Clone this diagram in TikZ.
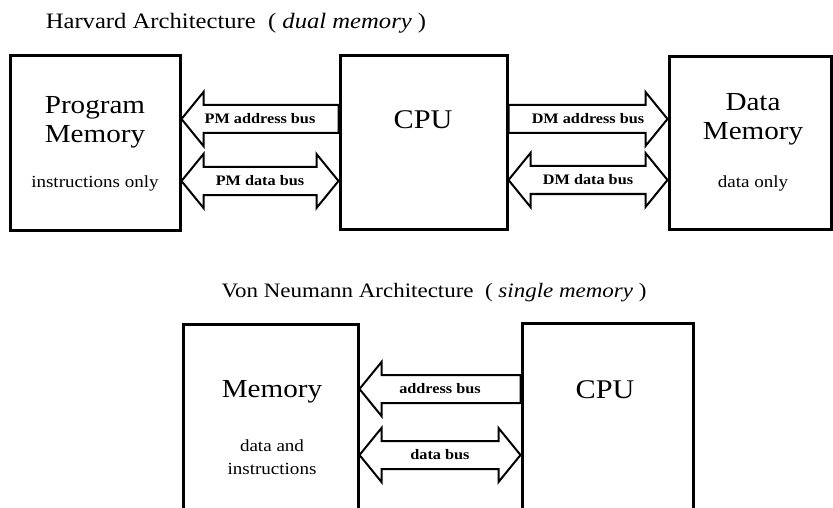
\documentclass[tikz,border=0pt]{standalone}
\usepackage{fontspec}
\setmainfont[FakeStretch=1.12]{Liberation Serif}
\usetikzlibrary{calc}

% fat bus arrows between two points on the same height
\newcommand{\busleft}[2]{%
  \draw[bus] (#1) -- ($(#1)+(22,-27)$) -- ($(#1)+(22,-14)$) -- ($(#2)+(0,-14)$)
    -- ($(#2)+(0,14)$) -- ($(#1)+(22,14)$) -- ($(#1)+(22,27)$) -- cycle;}
\newcommand{\busright}[2]{%
  \draw[bus] ($(#1)+(0,-14)$) -- ($(#2)+(-22,-14)$) -- ($(#2)+(-22,-27)$) -- (#2)
    -- ($(#2)+(-22,27)$) -- ($(#2)+(-22,14)$) -- ($(#1)+(0,14)$) -- cycle;}
\newcommand{\busboth}[2]{%
  \draw[bus] (#1) -- ($(#1)+(22,-27)$) -- ($(#1)+(22,-14)$) -- ($(#2)+(-22,-14)$)
    -- ($(#2)+(-22,-27)$) -- (#2) -- ($(#2)+(-22,27)$) -- ($(#2)+(-22,14)$)
    -- ($(#1)+(22,14)$) -- ($(#1)+(22,27)$) -- cycle;}

\begin{document}
\begin{tikzpicture}[x=1pt, y=-1pt,
    box/.style={draw, line width=3pt, inner sep=0pt},
    bus/.style={draw, line width=2pt, line join=miter},
    big/.style={font=\fontsize{26}{29}\selectfont, align=center},
    note/.style={font=\fontsize{17}{23}\selectfont, align=center},
    buslabel/.style={font=\fontsize{14.5}{16}\selectfont\bfseries},
    heading/.style={font=\fontsize{21}{24}\selectfont}]
  \clip (0,0) rectangle (833,508);

  % Harvard
  \node[heading, font=\fontsize{22}{24}\selectfont] (harvard) at (236,23) {Harvard Architecture\ \ ( \textit{dual memory} )};
  \node[box, minimum width=170pt, minimum height=174pt] (pm) at (95,143) {};
  \node[box, minimum width=167pt, minimum height=173pt] (cpu) at (423.5,142.5) {};
  \node[box, minimum width=162pt, minimum height=172pt] (dm) at (750,143) {};

  \node[big] (pmname) at (95,122) {Program\\Memory};
  \node[note] (pmnote) at (95,183) {instructions only};
  \node[big, font=\fontsize{27}{30}\selectfont] (cpuname) at (423,120) {CPU};
  \node[big] (dmname) at (753,119) {Data\\Memory};
  \node[note] (dmnote) at (753,183) {data only};

  \coordinate (pmaddrL) at (pm.east |- 0,119);
  \coordinate (pmaddrR) at (cpu.west |- 0,119);
  \coordinate (pmdataL) at (pm.east |- 0,181);
  \coordinate (pmdataR) at (cpu.west |- 0,181);
  \coordinate (dmaddrL) at (cpu.east |- 0,119);
  \coordinate (dmaddrR) at (dm.west |- 0,119);
  \coordinate (dmdataL) at (cpu.east |- 0,180);
  \coordinate (dmdataR) at (dm.west |- 0,180);

  \busleft{pmaddrL}{pmaddrR}
  \busboth{pmdataL}{pmdataR}
  \busright{dmaddrL}{dmaddrR}
  \busboth{dmdataL}{dmdataR}

  \node[buslabel] (pmaddr) at ($(pmaddrL)!0.5!(pmaddrR)$) {PM address bus};
  \node[buslabel] (pmdata) at ($(pmdataL)!0.5!(pmdataR)$) {PM data bus};
  \node[buslabel] (dmaddr) at ($(dmaddrL)!0.5!(dmaddrR)$) {DM address bus};
  \node[buslabel] (dmdata) at ($(dmdataL)!0.5!(dmdataR)$) {DM data bus};

  % Von Neumann
  \node[heading, font=\fontsize{20.5}{24}\selectfont] (vonneumann) at (434,293) {Von Neumann Architecture\ \ ( \textit{single memory} )};
  \node[box, minimum width=175pt, minimum height=212pt] (mem) at (270.5,430) {};
  \node[box, minimum width=171pt, minimum height=212pt] (vcpu) at (607.5,429) {};

  \node[big] (memname) at (272,392) {Memory};
  \node[note] (memnote) at (272,457) {data and\\instructions};
  \node[big, font=\fontsize{27}{30}\selectfont] (vcpuname) at (605,390) {CPU};

  \coordinate (addrL) at (mem.east |- 0,389);
  \coordinate (addrR) at (vcpu.west |- 0,389);
  \coordinate (dataL) at (mem.east |- 0,455);
  \coordinate (dataR) at (vcpu.west |- 0,455);

  \busleft{addrL}{addrR}
  \busboth{dataL}{dataR}

  \node[buslabel] (addr) at ($(addrL)!0.5!(addrR)$) {address bus};
  \node[buslabel] (data) at ($(dataL)!0.5!(dataR)$) {data bus};
\end{tikzpicture}
\end{document}
